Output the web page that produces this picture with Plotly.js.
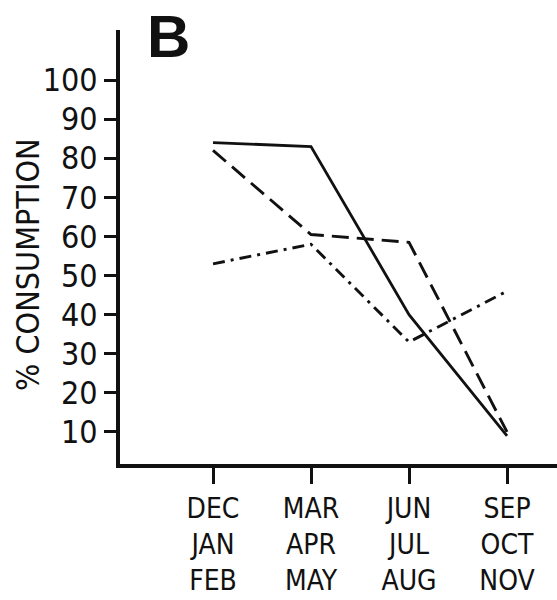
<!DOCTYPE html>
<html>
<head>
<meta charset="utf-8">
<script src="https://cdn.plot.ly/plotly-3.0.1.min.js"></script>
<style>
  html, body { margin: 0; padding: 0; background: #fff; }
  #chart { width: 557px; height: 600px; }
  #chart text.cond { font-stretch: condensed !important; }
</style>
</head>
<body>
<div id="chart"></div>
<script>
// Data
const categories = ["DEC<br>JAN<br>FEB", "MAR<br>APR<br>MAY", "JUN<br>JUL<br>AUG", "SEP<br>OCT<br>NOV"];
const seriesSolid = [84, 83, 40, 9];
const seriesDashed = [82, 60.5, 58.5, 10];
const seriesDashDot = [53, 58, 33, 46];
const yTicks = [10, 20, 30, 40, 50, 60, 70, 80, 90, 100];
const panelLabel = "B";
const yTitle = "% CONSUMPTION";

const FONT = "'DejaVu Sans Condensed', 'DejaVu Sans', sans-serif";
const idx = categories.map((_, i) => i);

const traces = [
  { x: idx, y: seriesSolid, mode: "lines", line: { color: "#111", width: 2.8, dash: "solid" } },
  { x: idx, y: seriesDashed, mode: "lines", line: { color: "#111", width: 2.9, dash: "17px,8px" } },
  { x: idx, y: seriesDashDot, mode: "lines", line: { color: "#111", width: 2.9, dash: "12px,6px,3px,6px" } }
];

const layout = {
  width: 557, height: 600,
  margin: { l: 120, r: 0, t: 30, b: 136 },
  paper_bgcolor: "#fff", plot_bgcolor: "#fff",
  showlegend: false,
  font: { family: FONT, color: "#111" },
  xaxis: {
    range: [-0.949, 3.51],
    tickmode: "array", tickvals: idx, ticktext: categories,
    showgrid: false, zeroline: false,
    showline: true, linecolor: "#111", linewidth: 4,
    ticks: "outside", ticklen: 16, tickwidth: 3, tickcolor: "#111",
    tickfont: { family: FONT, size: 28, color: "#111" }
  },
  yaxis: {
    range: [1.8, 112.8],
    tickmode: "array", tickvals: yTicks,
    showgrid: false, zeroline: false,
    showline: true, linecolor: "#111", linewidth: 4,
    ticks: "outside", ticklen: 12, tickwidth: 3, tickcolor: "#111",
    tickfont: { family: FONT, size: 32, color: "#111" }
  },
  annotations: [
    { text: "<b>" + panelLabel + "</b>", xref: "paper", yref: "paper", x: 0.11, y: 0.985,
      xanchor: "center", yanchor: "middle", showarrow: false,
      font: { family: "'Liberation Sans', Arial, sans-serif", size: 60, color: "#111" } },
    { text: yTitle, xref: "paper", yref: "paper", x: -0.2105, y: 0.4585,
      xanchor: "center", yanchor: "middle", textangle: -90, showarrow: false,
      font: { family: FONT, size: 32, color: "#111" } }
  ]
};

Plotly.newPlot("chart", traces, layout, { staticPlot: true, displayModeBar: false }).then(function (gd) {
  gd.querySelectorAll(".xtick text, .ytick text, .annotation-text").forEach(function (t) {
    if (t.textContent !== panelLabel) t.classList.add("cond");
  });
});
</script>
</body>
</html>
